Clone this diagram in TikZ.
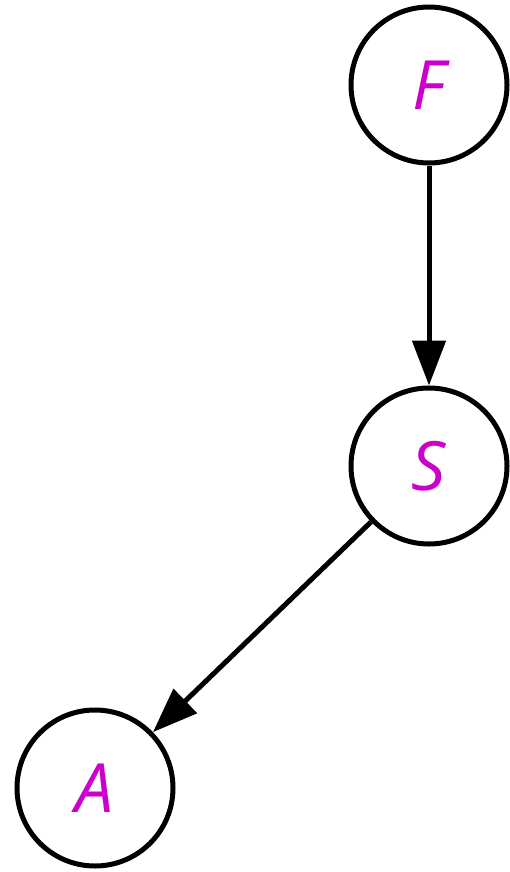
\documentclass[tikz,border=0pt]{standalone}
\usepackage{fontspec}
\setmainfont{Open Sans}
\usepackage{xcolor}
\usetikzlibrary{arrows.meta}
\definecolor{varpink}{HTML}{CC00CC}

\begin{document}
\begin{tikzpicture}[
    x=1pt, y=-1pt,
    var/.style={draw, circle, line width=5pt, minimum size=156pt, inner sep=0pt,
                text=varpink, font=\fontsize{68}{72}\selectfont\itshape},
    arr/.style={-{Triangle[length=45pt, width=33pt]}, line width=5pt},
  ]
  \useasboundingbox (0,0) rectangle (509,872);
  \node[var] (F) at (429,85)  {F};
  \node[var] (S) at (429,466) {S};
  \node[var] (A) at (95,788)  {A};

  \draw[arr] (F) -- (S);
  \draw[arr] (S) -- (A);
\end{tikzpicture}
\end{document}
